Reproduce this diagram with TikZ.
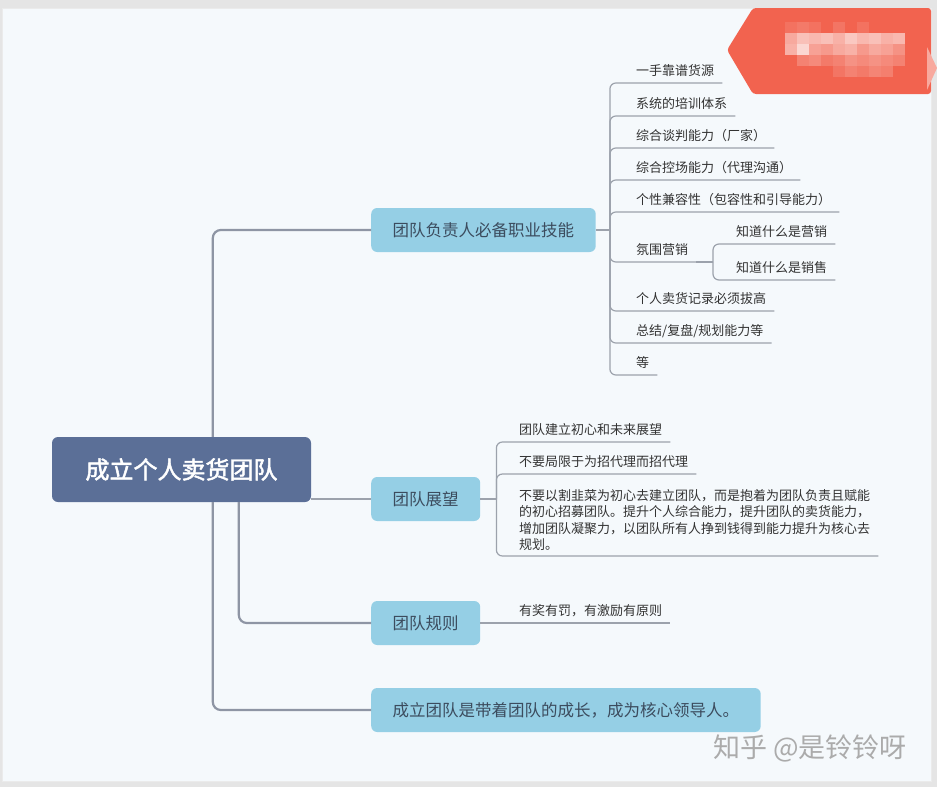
\documentclass[tikz,border=0pt]{standalone}
\usepackage{fontspec}
\setmainfont{Noto Sans CJK SC}[AutoFakeBold=2]
\usetikzlibrary{calc}
\definecolor{rootblue}{HTML}{5B6F97}
\definecolor{topicblue}{HTML}{95CFE5}
\definecolor{topictext}{HTML}{3C4C5E}
\definecolor{trunkgray}{HTML}{8E95A4}
\definecolor{twiggray}{HTML}{9CA2AC}
\definecolor{leaftext}{HTML}{333333}
\definecolor{paper}{HTML}{F5F9FC}
\definecolor{tagred}{HTML}{F2634F}

\begin{document}
\begin{tikzpicture}[x=1pt,y=-1pt,
    root/.style={rectangle,rounded corners=6pt,fill=rootblue,text=white,
      minimum width=259pt,minimum height=65pt,font=\fontsize{24}{28}\selectfont\bfseries},
    topic/.style={rectangle,rounded corners=6pt,fill=topicblue,text=topictext,anchor=west,
      minimum height=44pt,inner xsep=21.5pt,font=\fontsize{16.5}{20}\selectfont},
    twigtext/.style={anchor=south west,inner xsep=8pt,text=leaftext,font=\fontsize{13}{16.4}\selectfont},
    leaf/.style={twigtext,inner ysep=7pt,text depth=0pt},
    trunk/.style={draw=trunkgray,line width=2.2pt,rounded corners=8pt},
    twig/.style={draw=twiggray,line width=1.2pt,rounded corners=6pt}]

  \fill[black!10] (0,0) rectangle (937,787);
  \fill[paper,draw=black!8] (2,8) rectangle (931,781);
  \useasboundingbox (0,0) rectangle (937,787);

  \fill[tagred,rounded corners=3pt] (753,8) -- (931,8) -- (931,94) -- (753,94) -- (727,50) -- cycle;
  \fill[tagred!55!white] (927,47) -- (937,68) -- (927,90) -- cycle;
  \foreach \mx/\my/\mo in {785/22/.1,797/22/.15,809/22/.1,833/22/.12,857/22/.1,
      785/33/.45,797/33/.6,809/33/.55,821/33/.6,833/33/.5,845/33/.65,857/33/.55,869/33/.6,881/33/.5,893/33/.55,
      785/44/.5,797/44/.75,809/44/.4,821/44/.35,833/44/.45,845/44/.5,857/44/.35,869/44/.45,881/44/.4,893/44/.3,
      797/55/.2,809/55/.25,821/55/.15,833/55/.2,845/55/.3,857/55/.25,869/55/.3,881/55/.25,893/55/.2,
      833/66/.12,845/66/.2,857/66/.15,869/66/.22,881/66/.18}
    \fill[white,opacity=\mo] (\mx,\my) rectangle ++(12,11);

  \node[root] (root) at (181.5,469.5) {成立个人卖货团队};
  \node[topic] (skill) at (371,230) {团队负责人必备职业技能};
  \node[topic] (vision) at (371,499) {团队展望};
  \node[topic] (rule) at (371,623) {团队规则};
  \node[topic] (growth) at (371,710) {成立团队是带着团队的成长，成为核心领导人。};

  \draw[trunk] ([xshift=161pt]root.north west) |- (skill.west);
  \draw[trunk] ([xshift=161pt]root.south west) |- (growth.west);
  \draw[trunk] ([xshift=187pt]root.south west) |- (rule.west);
  \draw[twig,line width=1.5pt] (root.east |- vision.west) -- (vision.west);

  \node[leaf] (s1) at (628,83) {一手靠谱货源};
  \node[leaf] (s2) at (628,116) {系统的培训体系};
  \node[leaf] (s3) at (628,148) {综合谈判能力（厂家）};
  \node[leaf] (s4) at (628,180) {综合控场能力（代理沟通）};
  \node[leaf] (s5) at (628,212) {个性兼容性（包容性和引导能力）};
  \node[leaf] (s6) at (628,262) {氛围营销};
  \node[leaf] (s61) at (728,244) {知道什么是营销};
  \node[leaf] (s62) at (728,280) {知道什么是销售};
  \node[leaf] (s7) at (628,311) {个人卖货记录必须拔高};
  \node[leaf] (s8) at (628,343) {总结/复盘/规划能力等};
  \node[leaf] (s9) at (628,375) {等};

  \coordinate (skillfork) at ($(skill.east)+(14,0)$);
  \draw[twig] (skill.east) -- (skillfork);
  \foreach \leaf in {s1,s2,s3,s4,s5,s6,s7,s8,s9}
    \draw[twig] (skillfork) |- (\leaf.south west) -- (\leaf.south east);
  \coordinate (moodfork) at ($(s6.south -| s61.west)+(-15,0)$);
  \draw[twig] (s6.south east) -- (moodfork);
  \foreach \leaf in {s61,s62}
    \draw[twig] (moodfork) |- (\leaf.south west) -- (\leaf.south east);

  \node[leaf] (v1) at (511,442) {团队建立初心和未来展望};
  \node[leaf] (v2) at (511,474) {不要局限于为招代理而招代理};
  \node[twigtext,align=left,inner ysep=5pt] (v3) at (511,556)
    {不要以割韭菜为初心去建立团队，而是抱着为团队负责且赋能\\
     的初心招募团队。提升个人综合能力，提升团队的卖货能力，\\
     增加团队凝聚力，以团队所有人挣到钱得到能力提升为核心去\\
     规划。};

  \coordinate (visionfork) at ($(vision.east)+(16,0)$);
  \draw[twig] (vision.east) -- (visionfork);
  \foreach \leaf in {v1,v2,v3}
    \draw[twig] (visionfork) |- (\leaf.south west) -- (\leaf.south east);

  \node[leaf] (r1) at (511,623) {有奖有罚，有激励有原则};
  \draw[twig] (rule.east) -- (r1.south west) -- (r1.south east);

  \node[anchor=west,inner sep=0pt,text=black!33,font=\fontsize{27}{30}\selectfont] (mark) at (713,748) {知乎 @是铃铃呀};
\end{tikzpicture}
\end{document}
